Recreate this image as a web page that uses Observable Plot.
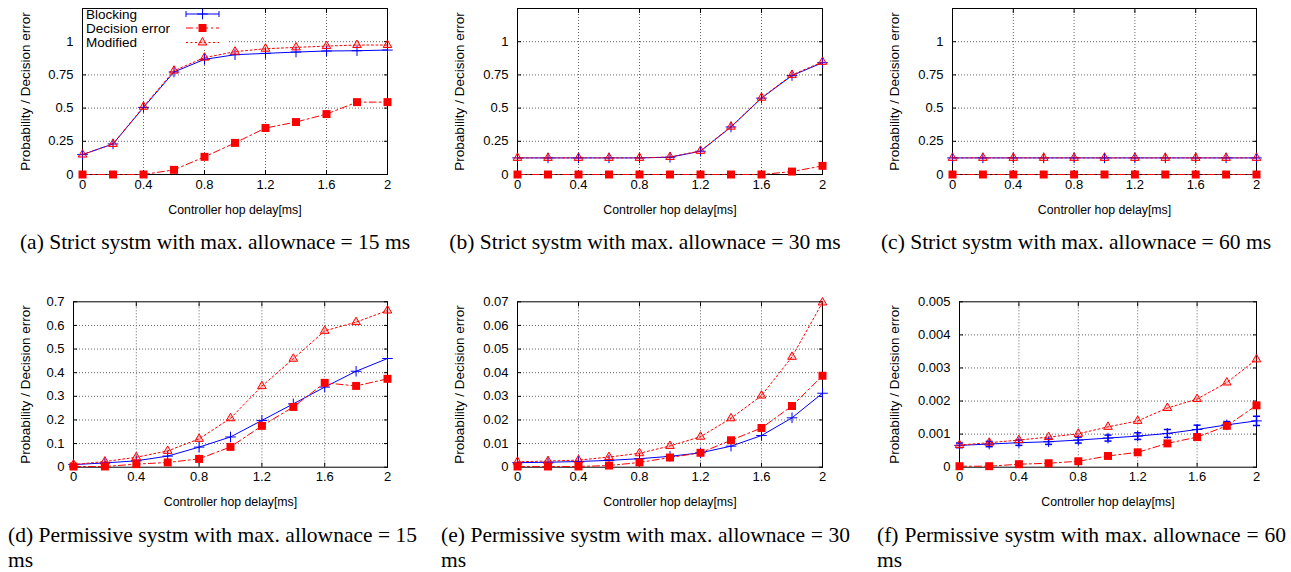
<!DOCTYPE html>
<html><head><meta charset="utf-8">
<script src="https://cdn.jsdelivr.net/npm/d3@7"></script>
<script src="https://cdn.jsdelivr.net/npm/@observablehq/plot@0.6"></script>
<style>
body{margin:0;background:#fff;}
#root{position:relative;width:1291px;height:572px;overflow:hidden;background:#fff;}
.panel{position:absolute;}
.cap{position:absolute;font-family:"Liberation Serif","Times New Roman",serif;font-size:21.5px;color:#000;line-height:25px;white-space:nowrap;}
.cap .l1{display:block;text-align:justify;text-align-last:justify;white-space:normal;}
.legend{position:absolute;background:#fff;}
</style></head><body><div id="root"></div>
<script>
// ---- data ----
const xValues = [0, 0.2, 0.4, 0.6, 0.8, 1.0, 1.2, 1.4, 1.6, 1.8, 2.0];
const xTicks = [0, 0.4, 0.8, 1.2, 1.6, 2];
const seriesNames = ["Blocking", "Decision error", "Modified"];
const xLabel = "Controller hop delay[ms]";
const yLabel = "Probability / Decision error";

// (a) strict, 15 ms
const blockingA = [0.15, 0.23, 0.505, 0.772, 0.867, 0.902, 0.912, 0.922, 0.93, 0.932, 0.937];
const decisionA = [0, 0, 0, 0.035, 0.133, 0.238, 0.35, 0.395, 0.455, 0.545, 0.545];
const modifiedA = [0.15, 0.23, 0.51, 0.782, 0.88, 0.925, 0.947, 0.957, 0.967, 0.975, 0.975];
// (b) strict, 30 ms
const blockingB = [0.125, 0.125, 0.125, 0.125, 0.125, 0.13, 0.175, 0.358, 0.575, 0.745, 0.842];
const decisionB = [0, 0, 0, 0, 0, 0, 0, 0, 0, 0.022, 0.065];
const modifiedB = [0.125, 0.125, 0.125, 0.125, 0.125, 0.132, 0.178, 0.36, 0.578, 0.75, 0.848];
// (c) strict, 60 ms
const blockingC = [0.125, 0.125, 0.125, 0.125, 0.125, 0.125, 0.125, 0.125, 0.125, 0.125, 0.125];
const decisionC = [0, 0, 0, 0, 0, 0, 0, 0, 0, 0, 0];
const modifiedC = [0.125, 0.125, 0.125, 0.125, 0.125, 0.125, 0.125, 0.125, 0.125, 0.125, 0.125];
// (d) permissive, 15 ms
const blockingD = [0.011, 0.018, 0.027, 0.047, 0.085, 0.128, 0.198, 0.268, 0.339, 0.406, 0.46];
const decisionD = [0.003, 0.003, 0.013, 0.02, 0.035, 0.086, 0.175, 0.255, 0.357, 0.344, 0.374];
const modifiedD = [0.011, 0.024, 0.042, 0.069, 0.12, 0.207, 0.343, 0.459, 0.577, 0.614, 0.663];
// (e) permissive, 30 ms
const blockingE = [0.0019, 0.0021, 0.0024, 0.0029, 0.0036, 0.0046, 0.0061, 0.0089, 0.0134, 0.0209, 0.0313];
const decisionE = [0.0003, 0.0003, 0.0003, 0.0007, 0.002, 0.0041, 0.0061, 0.0114, 0.0166, 0.0259, 0.0387];
const modifiedE = [0.0023, 0.0026, 0.003, 0.0043, 0.0059, 0.009, 0.0129, 0.0207, 0.0303, 0.0467, 0.0697];
// (f) permissive, 60 ms
const blockingF = [0.00066, 0.0007, 0.00074, 0.00077, 0.00082, 0.00088, 0.00094, 0.00102, 0.00114, 0.00128, 0.0014];
const blockingErrF = [0.00007, 0.00008, 0.00008, 0.00008, 0.00009, 0.00009, 0.0001, 0.00012, 0.00013, 0.0001, 0.00014];
const decisionF = [0.00003, 0.00003, 0.00009, 0.00012, 0.00018, 0.00034, 0.00045, 0.00072, 0.00091, 0.00125, 0.00187];
const modifiedF = [0.00067, 0.00074, 0.00082, 0.00091, 0.00101, 0.00122, 0.0014, 0.00179, 0.00206, 0.00256, 0.00326];

const yTicksStrict = [0, 0.25, 0.5, 0.75, 1];
const yTicksD = [0, 0.1, 0.2, 0.3, 0.4, 0.5, 0.6, 0.7];
const yTicksE = [0, 0.01, 0.02, 0.03, 0.04, 0.05, 0.06, 0.07];
const yTicksF = [0, 0.001, 0.002, 0.003, 0.004, 0.005];

const captions = [
  "(a) Strict systm with max. allownace = 15 ms",
  "(b) Strict systm with max. allownace = 30 ms",
  "(c) Strict systm with max. allownace = 60 ms",
  "(d) Permissive systm with max. allownace = 15 ms",
  "(e) Permissive systm with max. allownace = 30 ms",
  "(f) Permissive systm with max. allownace = 60 ms"
];

// ---- styles ----
const BLUE = "#0000ff", RED = "#ff0000";
const FONT = "'Liberation Sans', Arial, Helvetica, sans-serif";
const capSymbol = { draw(ctx, size) { const w = Math.sqrt(size) / 2; ctx.moveTo(-w, 0); ctx.lineTo(w, 0); } };

function makePanel(p) {
  const rows = xValues.map((x, i) => ({
    x, b: p.blocking[i], d: p.decision[i], m: p.modified[i], e: p.err ? p.err[i] : 0
  }));
  const grid = { stroke: "#666", strokeDasharray: "1,2", strokeOpacity: 1, strokeWidth: 1 };
  const marks = [
    Plot.gridX(xTicks.filter(t => t > 0 && t < 2), grid),
    Plot.gridY(p.yTicks.filter(t => t > 0 && t < p.yMax), grid),
    Plot.axisX(xTicks, { tickSize: 0, tickPadding: 5, tickFormat: d => String(d), label: null, fontSize: 13 }),
    Plot.axisY(p.yTicks, { tickSize: 0, tickPadding: 9, tickFormat: d => String(d), label: null, fontSize: 13 }),
    Plot.axisX(xTicks, { anchor: "bottom", tickSize: -4, tickFormat: () => "", label: null }),
    Plot.axisX(xTicks, { anchor: "top", tickSize: -4, tickFormat: () => "", label: null }),
    Plot.axisY(p.yTicks, { anchor: "left", tickSize: -4, tickFormat: () => "", label: null }),
    Plot.axisY(p.yTicks, { anchor: "right", tickSize: -4, tickFormat: () => "", label: null }),
    Plot.frame({ stroke: "#000", strokeWidth: 1 }),
    Plot.text([xLabel], { frameAnchor: "bottom", dy: p.xLabelDy, fontSize: 12.3, lineAnchor: "middle", textAnchor: "middle" }),
    Plot.text([yLabel], { frameAnchor: "left", dx: p.labelX - p.ml, rotate: -90, fontSize: 13.5, lineAnchor: "middle", textAnchor: "middle" })
  ];
  if (p.err) {
    marks.push(
      Plot.ruleX(rows, { x: "x", y1: d => d.b - d.e, y2: d => d.b + d.e, stroke: BLUE, strokeWidth: 1.5 }),
      Plot.dot(rows, { x: "x", y: d => d.b - d.e, symbol: capSymbol, r: 4, stroke: BLUE, strokeWidth: 1.5 }),
      Plot.dot(rows, { x: "x", y: d => d.b + d.e, symbol: capSymbol, r: 4, stroke: BLUE, strokeWidth: 1.5 })
    );
  }
  marks.push(
    Plot.line(rows, { x: "x", y: "b", stroke: BLUE, strokeWidth: 1 }),
    Plot.dot(rows, { x: "x", y: "b", symbol: "plus", r: 3.5, stroke: BLUE, strokeWidth: 1 }),
    Plot.line(rows, { x: "x", y: "d", stroke: RED, strokeWidth: 1, strokeDasharray: "7,3,2,3" }),
    Plot.dot(rows, { x: "x", y: "d", symbol: "square", r: 4.5, fill: RED, stroke: "none" }),
    Plot.line(rows, { x: "x", y: "m", stroke: RED, strokeWidth: 1, strokeDasharray: "2,2.5" }),
    Plot.dot(rows, { x: "x", y: "m", symbol: "triangle", r: 3.2, stroke: RED, fill: RED, fillOpacity: 0.2, strokeWidth: 1 })
  );
  const chart = Plot.plot({
    width: 430, height: p.height,
    marginLeft: p.ml, marginRight: p.mr, marginTop: p.mt, marginBottom: p.mb,
    x: { domain: [0, 2] },
    y: { domain: [0, p.yMax] },
    style: { fontFamily: FONT, color: "#000", background: "transparent", overflow: "visible" },
    marks
  });
  const div = document.createElement("div");
  div.className = "panel";
  div.style.left = p.left + "px";
  div.style.top = p.top + "px";
  div.appendChild(chart);
  document.getElementById("root").appendChild(div);
}

const topRow = { top: 0, height: 219, mt: 8, mb: 45, xLabelDy: 36, yMax: 1.25, yTicks: yTicksStrict };
const botRow = { top: 290, height: 222, mt: 11.3, mb: 45.3, xLabelDy: 35 };

makePanel({ ...topRow, left: 0, ml: 82, mr: 43, labelX: 25, blocking: blockingA, decision: decisionA, modified: modifiedA });
makePanel({ ...topRow, left: 430, ml: 87, mr: 38, labelX: 29, blocking: blockingB, decision: decisionB, modified: modifiedB });
makePanel({ ...topRow, left: 860, ml: 92, mr: 34, labelX: 34, blocking: blockingC, decision: decisionC, modified: modifiedC });
makePanel({ ...botRow, left: 0, ml: 73, mr: 43, labelX: 25, yMax: 0.7, yTicks: yTicksD, blocking: blockingD, decision: decisionD, modified: modifiedD });
makePanel({ ...botRow, left: 430, ml: 87, mr: 38, labelX: 29, yMax: 0.07, yTicks: yTicksE, blocking: blockingE, decision: decisionE, modified: modifiedE });
makePanel({ ...botRow, left: 860, ml: 99, mr: 34, labelX: 34, yMax: 0.005, yTicks: yTicksF, blocking: blockingF, decision: decisionF, modified: modifiedF, err: blockingErrF });

// ---- legend (panel a) ----
(function () {
  const div = document.createElement("div");
  div.className = "legend";
  div.style.left = "83px"; div.style.top = "9px";
  div.style.width = "144px"; div.style.height = "40px";
  const svg = d3.select(div).append("svg").attr("width", 144).attr("height", 40).style("overflow", "visible");
  const ys = [5, 19, 33.5];
  svg.selectAll("text").data(seriesNames).join("text")
    .attr("x", 3).attr("y", (d, i) => ys[i]).attr("dy", "0.35em")
    .attr("font-family", FONT).attr("font-size", 13.5).text(d => d);
  const x0 = 103, x1 = 136, xc = 119.5;
  svg.append("line").attr("x1", x0).attr("x2", x1).attr("y1", ys[0]).attr("y2", ys[0]).attr("stroke", BLUE);
  [x0, x1].forEach(x => svg.append("line").attr("x1", x).attr("x2", x).attr("y1", ys[0] - 3).attr("y2", ys[0] + 3).attr("stroke", BLUE));
  svg.append("path").attr("d", d3.symbol(d3.symbolPlus, Math.PI * 3.5 * 3.5)()).attr("transform", `translate(${xc},${ys[0]})`).attr("stroke", BLUE).attr("fill", "none");
  svg.append("line").attr("x1", x0).attr("x2", x1).attr("y1", ys[1]).attr("y2", ys[1]).attr("stroke", RED).attr("stroke-dasharray", "7,3,2,3");
  svg.append("path").attr("d", d3.symbol(d3.symbolSquare, Math.PI * 4.5 * 4.5)()).attr("transform", `translate(${xc},${ys[1]})`).attr("fill", RED);
  svg.append("line").attr("x1", x0).attr("x2", x1).attr("y1", ys[2]).attr("y2", ys[2]).attr("stroke", RED).attr("stroke-dasharray", "2,2.5");
  svg.append("path").attr("d", d3.symbol(d3.symbolTriangle, Math.PI * 3.2 * 3.2)()).attr("transform", `translate(${xc},${ys[2]})`).attr("stroke", RED).attr("fill", RED).attr("fill-opacity", 0.2);
  document.getElementById("root").appendChild(div);
})();

// ---- captions ----
const capPos = [
  { left: 0, top: 230, center: true }, { left: 430, top: 230, center: true }, { left: 861, top: 230, center: true },
  { left: 8, top: 523 }, { left: 441, top: 523 }, { left: 877, top: 523 }
];
captions.forEach((t, i) => {
  const c = document.createElement("div");
  c.className = "cap";
  const p = capPos[i];
  c.style.left = p.left + "px"; c.style.top = p.top + "px";
  if (p.center) {
    c.style.width = "430px"; c.style.textAlign = "center";
    c.textContent = t;
  } else {
    c.style.width = "409px";
    const k = t.lastIndexOf(" ");
    const l1 = document.createElement("span");
    l1.className = "l1";
    l1.textContent = t.slice(0, k);
    const l2 = document.createElement("span");
    l2.style.display = "block";
    l2.textContent = t.slice(k + 1);
    c.appendChild(l1); c.appendChild(l2);
  }
  document.getElementById("root").appendChild(c);
});
</script>
</body></html>
